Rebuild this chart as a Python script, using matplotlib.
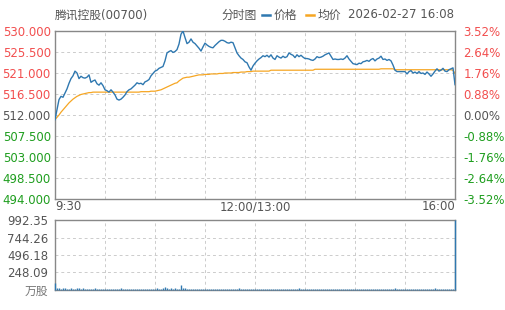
import numpy as np
import matplotlib
matplotlib.use('Agg')
from matplotlib import pyplot as plt
from matplotlib.lines import Line2D

plt.rcParams['font.family'] = ['DejaVu Sans', 'Noto Sans CJK SC']

stock_name = '腾讯控股(00700)'
chart_name = '分时图'
price_label = '价格'
avg_label = '均价'
stamp = '2026-02-27 16:08'
prev_close = 512.0

# 価格（2px毎に読み取り）
price = [
    511.0, 513.2, 515.3, 516.0, 515.8, 516.7, 517.6, 518.8, 519.8, 520.4,
    521.4, 521.0, 519.8, 520.3, 520.0, 519.9, 520.1, 520.6, 519.0, 519.3,
    519.5, 518.7, 518.4, 518.9, 518.3, 517.4, 517.2, 516.9, 517.4, 516.9,
    516.3, 515.4, 515.2, 515.4, 515.8, 516.3, 517.0, 517.4, 517.6, 518.0,
    518.4, 518.9, 518.7, 518.8, 518.5, 519.1, 519.3, 519.6, 520.4, 520.9,
    521.4, 521.6, 522.0, 522.2, 522.4, 523.6, 525.3, 525.6, 525.8, 525.4,
    525.6, 526.0, 527.2, 529.3, 530.0, 528.6, 527.3, 527.6, 528.3, 527.6,
    527.3, 526.8, 526.3, 525.7, 526.6, 527.4, 527.0, 526.7, 526.5, 526.4,
    526.9, 527.3, 527.7, 528.0, 528.0, 527.8, 527.5, 527.4, 527.6, 527.5,
    526.4, 525.3, 524.7, 524.2, 523.9, 523.4, 523.2, 522.3, 521.6, 522.5,
    523.1, 523.6, 524.0, 524.3, 524.7, 524.5, 524.8, 524.4, 524.9, 524.2,
    523.9, 524.7, 524.4, 524.2, 524.6, 524.3, 524.5, 525.3, 525.0, 524.8,
    524.3, 524.9, 524.5, 524.8, 524.4, 524.1, 524.1, 524.0, 523.8, 523.7,
    524.0, 524.5, 524.3, 524.4, 524.6, 524.9, 525.1, 525.3, 524.6, 523.9,
    524.0, 523.9, 523.9, 524.0, 523.9, 524.2, 524.7, 524.0, 523.5, 523.0,
    522.9, 522.8, 523.1, 523.0, 523.4, 523.5, 523.7, 523.5, 523.9, 524.1,
    523.6, 524.0, 524.2, 524.6, 523.9, 524.0, 523.7, 523.9, 523.6, 522.7,
    521.6, 521.3, 521.3, 521.3, 521.3, 521.3, 520.8, 521.3, 521.5, 521.0,
    521.2, 520.9, 521.3, 520.9, 521.0, 520.7, 521.2, 520.8, 520.3, 520.8,
    521.4, 521.9, 521.4, 521.6, 522.0, 521.4, 521.3, 521.7, 521.9, 522.1,
    518.5,
]

# 均価
avg_price = [
    511.0, 511.5, 512.0, 512.6, 513.1, 513.6, 514.1, 514.6, 515.0, 515.4,
    515.7, 516.0, 516.2, 516.4, 516.5, 516.6, 516.7, 516.8, 516.8, 516.9,
    516.9, 516.9, 516.9, 516.9, 516.9, 516.9, 516.9, 516.9, 516.9, 516.9,
    516.9, 516.9, 516.9, 516.9, 516.9, 516.9, 516.9, 516.9, 516.9, 516.9,
    516.9, 516.9, 516.9, 517.0, 517.0, 517.0, 517.0, 517.0, 517.1, 517.1,
    517.1, 517.2, 517.3, 517.4, 517.6, 517.8, 518.0, 518.2, 518.4, 518.6,
    518.8, 518.9, 519.3, 519.6, 519.9, 520.0, 520.1, 520.1, 520.2, 520.3,
    520.4, 520.5, 520.6, 520.6, 520.6, 520.7, 520.7, 520.7, 520.8, 520.8,
    520.8, 520.8, 520.9, 520.9, 520.9, 521.0, 521.0, 521.0, 521.0, 521.1,
    521.1, 521.1, 521.1, 521.2, 521.2, 521.2, 521.3, 521.3, 521.3, 521.4,
    521.4, 521.4, 521.4, 521.4, 521.4, 521.4, 521.4, 521.4, 521.6, 521.6,
    521.6, 521.6, 521.6, 521.6, 521.6, 521.6, 521.6, 521.6, 521.6, 521.6,
    521.6, 521.6, 521.6, 521.6, 521.6, 521.6, 521.6, 521.6, 521.6, 521.6,
    521.8, 521.8, 521.8, 521.8, 521.8, 521.8, 521.8, 521.8, 521.8, 521.8,
    521.8, 521.8, 521.8, 521.8, 521.8, 521.8, 521.8, 521.8, 521.8, 521.8,
    521.8, 521.8, 521.8, 521.8, 521.8, 521.8, 521.8, 521.8, 521.8, 521.8,
    521.8, 521.8, 521.8, 521.9, 521.9, 521.9, 521.9, 521.9, 521.9, 521.9,
    521.7, 521.7, 521.7, 521.7, 521.7, 521.7, 521.7, 521.7, 521.7, 521.7,
    521.7, 521.7, 521.7, 521.7, 521.7, 521.7, 521.7, 521.7, 521.7, 521.7,
    521.7, 521.7, 521.7, 521.7, 521.7, 521.7, 521.7, 521.7, 521.7, 521.6,
    520.9,
]

volume = [
    95, 30, 22, 20, 26, 24, 20, 20, 26, 20,
    20, 26, 24, 20, 22, 20, 20, 20, 20, 20,
    22, 20, 20, 20, 20, 20, 20, 20, 20, 20,
    20, 20, 20, 22, 20, 20, 20, 20, 20, 20,
    20, 20, 20, 20, 20, 20, 20, 20, 20, 20,
    20, 24, 20, 20, 26, 40, 32, 20, 30, 20,
    24, 20, 20, 66, 32, 22, 20, 20, 20, 20,
    20, 20, 20, 20, 20, 20, 20, 20, 20, 20,
    20, 20, 20, 20, 20, 20, 20, 20, 20, 20,
    20, 20, 22, 20, 20, 20, 20, 20, 20, 20,
    20, 20, 20, 20, 20, 20, 20, 20, 20, 20,
    20, 20, 20, 20, 20, 20, 20, 20, 20, 20,
    20, 20, 24, 20, 20, 20, 20, 20, 20, 20,
    20, 20, 20, 20, 20, 20, 20, 20, 20, 20,
    20, 20, 20, 20, 20, 20, 20, 20, 20, 20,
    20, 20, 20, 20, 20, 20, 20, 20, 20, 20,
    20, 20, 20, 20, 20, 20, 20, 20, 20, 20,
    26, 20, 20, 20, 20, 20, 20, 20, 20, 20,
    20, 20, 20, 20, 20, 20, 20, 20, 20, 20,
    26, 20, 20, 20, 20, 20, 20, 20, 20, 20,
    992.35,
]

price_ticks = [494.0, 498.5, 503.0, 507.5, 512.0, 516.5, 521.0, 525.5, 530.0]
vol_ticks = [0, 248.09, 496.18, 744.26, 992.35]
vol_labels = ['万股', '248.09', '496.18', '744.26', '992.35']
time_labels = ['9:30', '12:00/13:00', '16:00']

RED = '#f24e4e'
GREEN = '#1f9e1f'
GRAY = '#555555'
BLUE = '#2f78b0'
ORANGE = '#f6a623'
EDGE = '#888888'

fig = plt.figure(figsize=(5.05, 3.10), dpi=100)
ax = fig.add_axes([55/505, 1 - 199/310, 400/505, 168/310])
axv = fig.add_axes([55/505, 1 - 290/310, 400/505, 70/310])

x = np.arange(len(price))
n = len(price) - 1
ax.plot(x, price, color=BLUE, lw=1.0, zorder=3)
ax.plot(x, avg_price, color=ORANGE, lw=0.9, zorder=2)
ax.set_xlim(0, n)
ax.set_ylim(price_ticks[0], price_ticks[-1])

grid_x = np.linspace(0, n, 9)
for a in (ax, axv):
    for s in a.spines.values():
        s.set_color(EDGE)
        s.set_linewidth(1.0)
    a.set_xticks(grid_x)
    a.grid(True, color='#cccccc', ls=(0, (3, 3)), lw=0.7)
    a.tick_params(length=0, labelsize=8.5, colors=GRAY)

ax.set_yticks(price_ticks)
ax.set_yticklabels(['%.3f' % t for t in price_ticks])
ax.tick_params(axis='y', pad=3)
for lab, t in zip(ax.get_yticklabels(), price_ticks):
    if t > prev_close:
        lab.set_color(RED)
    elif t < prev_close:
        lab.set_color(GREEN)

xlabs = [''] * 9
xlabs[0], xlabs[4], xlabs[8] = time_labels
ax.set_xticklabels(xlabs)
ax.tick_params(axis='x', pad=1)
tl = ax.get_xticklabels()
tl[0].set_ha('left')
tl[8].set_ha('right')

# 右軸：騰落率
ax2 = ax.twinx()
ax2.set_ylim(ax.get_ylim())
ax2.set_yticks(price_ticks)
ax2.set_yticklabels(['%.2f%%' % ((t - prev_close) / prev_close * 100) for t in price_ticks])
ax2.tick_params(length=0, labelsize=8.5, pad=6)
for s in ax2.spines.values():
    s.set_visible(False)
for lab, t in zip(ax2.get_yticklabels(), price_ticks):
    lab.set_color(RED if t > prev_close else (GREEN if t < prev_close else GRAY))

# 出来高
vl = axv.vlines(x, 0, volume, color=BLUE, lw=1.0, zorder=4)
vl.set_clip_on(False)
axv.set_xlim(0, n)
axv.set_ylim(0, vol_ticks[-1])
axv.set_yticks(vol_ticks)
axv.set_yticklabels(vol_labels)
axv.set_xticklabels([])
axv.tick_params(axis='y', pad=5)
axv.get_yticklabels()[0].set_color('#777777')

# タイトル行
fig.text(55/505, 1 - 15/310, stock_name, fontsize=8.5, color=GRAY, va='center', ha='left')
fig.text(454/505, 1 - 15/310, stamp, fontsize=8.5, color=GRAY, va='center', ha='right')
fig.text(341/505, 1 - 15/310, avg_label, fontsize=8.5, color=GRAY, va='center', ha='right')
fig.text(297/505, 1 - 15/310, price_label, fontsize=8.5, color=GRAY, va='center', ha='right')
fig.text(257/505, 1 - 15/310, chart_name, fontsize=8.5, color=GRAY, va='center', ha='right')
fig.add_artist(Line2D([262/505, 270/505], [1 - 15/310] * 2, color=BLUE, lw=1.8))
fig.add_artist(Line2D([306/505, 314/505], [1 - 15/310] * 2, color=ORANGE, lw=1.8))

fig.savefig('out.png', dpi=100)
